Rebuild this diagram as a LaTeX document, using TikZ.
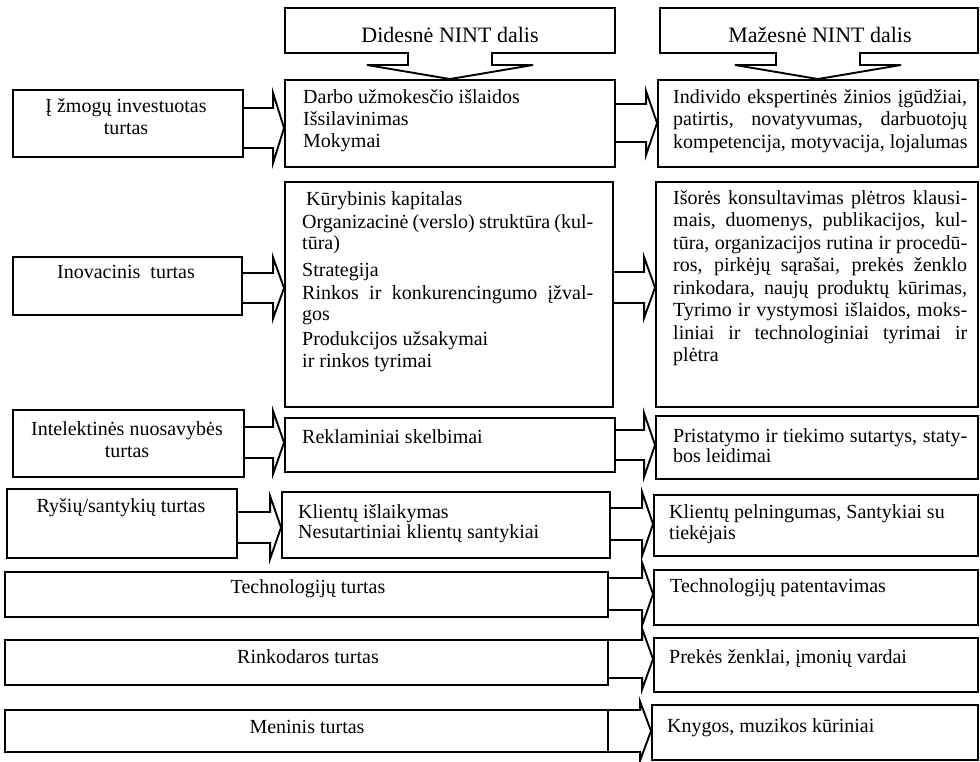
\documentclass[tikz,border=0pt]{standalone}
\usepackage{fontspec}
\setmainfont{Liberation Serif}
\usetikzlibrary{calc}

% rectangle node given by its corner coordinates (x1,y1) and (x2,y2)
\newcommand{\bx}[6][box]{%
  \node[#1, minimum width={(#5-#3)*1pt}, minimum height={(#6-#4)*1pt}]
    (#2) at ({(#3+#5)/2},{(#4+#6)/2}) {};}

% header box with a downward callout arrow onto a content box
\newcommand{\callout}[2]{%
  \draw[ln] let \p1=(#1.south west), \p2=(#1.north east), \p3=(#2.north) in
    (\x3-42pt,\y1) -- (\x1,\y1) -- (\x1,\y2) -- (\x2,\y2) -- (\x2,\y1)
    -- (\x3+42pt,\y1) -- (\x3+42pt,\y1-12pt) -- (\x3+83pt,\y1-12pt)
    -- (\x3,\y3) -- (\x3-83pt,\y1-12pt) -- (\x3-42pt,\y1-12pt) -- cycle;}

% outlined block arrow: from, to, centre y, shaft half height, head half height
% (the y axis points down, so a picture y value v sits at canvas height -v pt)
\newcommand{\barrow}[5]{%
  \draw[ln] let \p1=(#1.east), \p2=(#2.west) in
    (\x1,{-(#3-#4)*1pt}) -- (\x2-11pt,{-(#3-#4)*1pt})
    -- (\x2-11pt,{-(#3-#5)*1pt}) -- (\x2,{-#3*1pt})
    -- (\x2-11pt,{-(#3+#5)*1pt}) -- (\x2-11pt,{-(#3+#4)*1pt})
    -- (\x1,{-(#3+#4)*1pt});}

\begin{document}
\begin{tikzpicture}[x=1pt,y=-1pt,
  ln/.style={draw=black, line width=1.9pt, line join=miter},
  box/.style={ln, rectangle, inner sep=0pt},
  frame/.style={rectangle, inner sep=0pt, outer sep=0pt},
  tx/.style={inner sep=0pt, font=\fontsize{20}{22}\selectfont},
  hx/.style={inner sep=0pt, font=\fontsize{22}{24}\selectfont, anchor=base},
  blk/.style={tx, align=left, anchor=north west},
  ctr/.style={tx, align=center, anchor=north}]

\fill[white] (0,0) rectangle (980,762);
\useasboundingbox (0,0) rectangle (980,762);

% column headers
\bx[frame]{h1}{285}{8}{615}{53}
\bx[frame]{h2}{660}{8}{978}{53}
\node[hx] (h1t) at (450,43) {Didesnė NINT dalis};
\node[hx] (h2t) at (820,43) {Mažesnė NINT dalis};

% row boxes
\bx{l1}{13}{90}{243}{157}
\bx{m1}{285}{80}{615}{167}
\bx{r1}{658}{80}{978}{167}
\bx{l2}{13}{257}{242}{315}
\bx{m2}{285}{182}{613}{407}
\bx{r2}{656}{182}{978}{407}
\bx{l3}{13}{410}{244}{477}
\bx{m3}{285}{418}{615}{472}
\bx{r3}{656}{416}{978}{479}
\bx{l4}{7}{489}{237}{558}
\bx{m4}{282}{492}{610}{558}
\bx{r4}{654}{495}{978}{556}
\bx{l5}{5}{572}{608}{617}
\bx{r5}{654}{570}{978}{625}
\bx{l6}{5}{640}{608}{685}
\bx{r6}{654}{638}{978}{692}
\bx{l7}{5}{710}{608}{752}
\bx{r7}{652}{705}{978}{760}

\callout{h1}{m1}
\callout{h2}{r1}

% arrows between the columns
\barrow{l1}{m1}{128}{20}{35}
\barrow{m1}{r1}{123}{19}{32}
\barrow{l2}{m2}{288}{15}{30.5}
\barrow{m2}{r2}{287.5}{15.5}{30.5}
\barrow{l3}{m3}{442.5}{15.5}{31.5}
\barrow{m3}{r3}{445}{15}{32}
\barrow{l4}{m4}{527.5}{15.5}{31.5}
\barrow{m4}{r4}{524}{16}{32}
\barrow{l5}{r5}{594}{16}{31.5}
\barrow{l6}{r6}{659}{19}{30.5}
\barrow{l7}{r7}{731}{21}{29.5}

% texts
\node[ctr] (l1t) at (126,96.6) {\strut Į žmogų investuotas\\turtas};
\node[blk] (m1t) at (303,87.6) {\strut Darbo užmokesčio išlaidos\\Išsilavinimas\\Mokymai};
\node[blk, font=\fontsize{20}{22.5}\selectfont] (r1t) at (673,87.3) {%
  \strut\makebox[294pt][s]{Individo ekspertinės žinios įgūdžiai,}\\
  \makebox[294pt][s]{patirtis, novatyvumas, darbuotojų}\\
  kompetencija, motyvacija, lojalumas};

\node[tx, anchor=base] (l2t) at (126,279) {Inovacinis\ \ turtas};
\node[blk, font=\fontsize{20}{21}\selectfont] (m2t) at (302,190.3) {%
  \strut\hspace{4pt}Kūrybinis kapitalas\\[2pt]
  \makebox[291pt][s]{Organizacinė (verslo) struktūra (kul-}\\
  tūra)\\[6pt]
  Strategija\\[2pt]
  \makebox[291pt][s]{Rinkos ir konkurencingumo įžval-}\\
  gos\\[4pt]
  Produkcijos užsakymai\\[1pt]
  ir rinkos tyrimai};
\node[blk, font=\fontsize{20}{22.5}\selectfont] (r2t) at (673,188.3) {%
  \strut\makebox[294pt][s]{Išorės konsultavimas plėtros klausi-}\\
  \makebox[294pt][s]{mais, duomenys, publikacijos, kul-}\\
  \makebox[294pt][s]{tūra, organizacijos rutina ir procedū-}\\
  \makebox[294pt][s]{ros, pirkėjų sąrašai, prekės ženklo}\\
  \makebox[294pt][s]{rinkodara, naujų produktų kūrimas,}\\
  \makebox[294pt][s]{Tyrimo ir vystymosi išlaidos, moks-}\\
  \makebox[294pt][s]{liniai ir technologiniai tyrimai ir}\\
  plėtra};

\node[ctr] (l3t) at (127,419.6) {\strut Intelektinės nuosavybės\\turtas};
\node[tx, anchor=base west] (m3t) at (302,443) {Reklaminiai skelbimai};
\node[blk, font=\fontsize{20}{20}\selectfont] (r3t) at (673,428) {%
  \strut\makebox[294pt][s]{Pristatymo ir tiekimo sutartys, staty-}\\
  bos leidimai};

\node[tx, anchor=base] (l4t) at (121,512) {Ryšių/santykių turtas};
\node[blk, font=\fontsize{20}{20}\selectfont] (m4t) at (298,504) {%
  \strut Klientų išlaikymas\\Nesutartiniai klientų santykiai};
\node[blk, font=\fontsize{20}{21}\selectfont] (r4t) at (669,503.3) {%
  \strut Klientų pelningumas, Santykiai su\\tiekėjais};

\node[tx, anchor=base] (l5t) at (308,593) {Technologijų turtas};
\node[tx, anchor=base west] (r5t) at (670,592) {Technologijų patentavimas};
\node[tx, anchor=base] (l6t) at (308,663) {Rinkodaros turtas};
\node[tx, anchor=base west] (r6t) at (669,663) {Prekės ženklai, įmonių vardai};
\node[tx, anchor=base] (l7t) at (307,733) {Meninis turtas};
\node[tx, anchor=base west] (r7t) at (667,732) {Knygos, muzikos kūriniai};
\end{tikzpicture}
\end{document}
